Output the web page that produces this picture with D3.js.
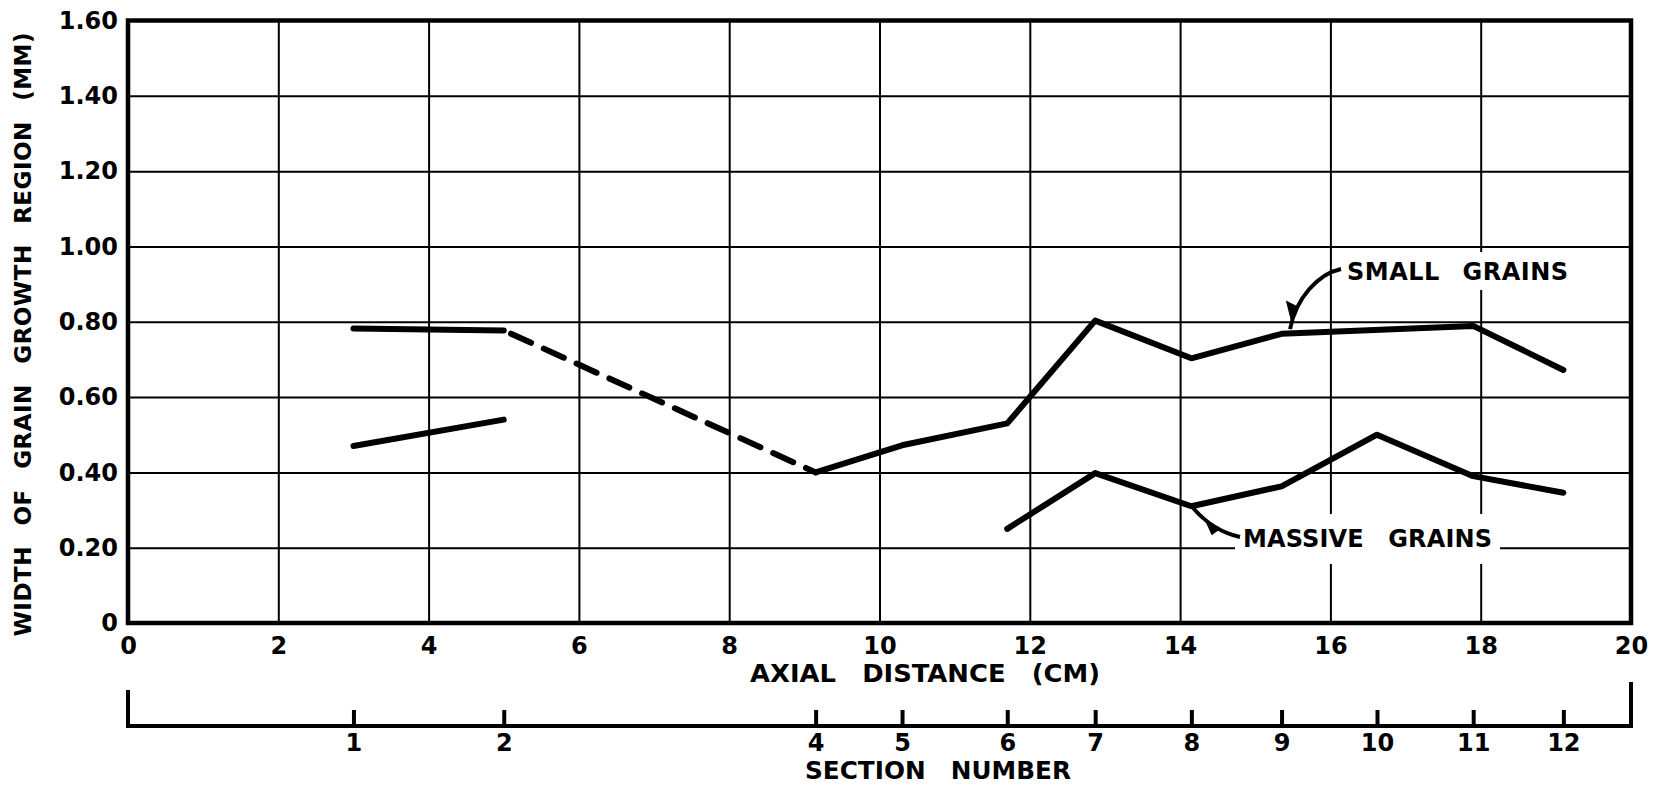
<!DOCTYPE html>
<html><head><meta charset="utf-8">
<script src="https://cdn.jsdelivr.net/npm/d3@7"></script>
<style>
body{margin:0;background:#fff}
text{font-family:"DejaVu Sans",sans-serif;font-weight:bold;fill:#000}
</style>
</head><body>
<svg id="c" width="1671" height="789"></svg>
<script>
// ---- data ----
const yTicks = [0, 0.2, 0.4, 0.6, 0.8, 1.0, 1.2, 1.4, 1.6];
const xTicks = [0, 2, 4, 6, 8, 10, 12, 14, 16, 18, 20];
const sections = [1, 2, 4, 5, 6, 7, 8, 9, 10, 11, 12];
const sectionCm = [3.0, 5.0, 9.15, 10.3, 11.7, 12.87, 14.15, 15.35, 16.62, 17.9, 19.1];
// small grains, sections 1-2 (solid)
const smallEarlySec = [1, 2];
const smallEarlyVal = [0.782, 0.777];
// small grains, sections 2-4 (dashed, interpolated)
const smallDashSec = [2, 4];
const smallDashVal = [0.777, 0.40];
// small grains, sections 4-12 (section 10 not a vertex)
const smallMainSec = [4, 5, 6, 7, 8, 9, 11, 12];
const smallMainVal = [0.40, 0.472, 0.53, 0.803, 0.703, 0.768, 0.789, 0.672];
// massive grains
const massEarlySec = [1, 2];
const massEarlyVal = [0.47, 0.54];
const massMainSec = [6, 7, 8, 9, 10, 11, 12];
const massMainVal = [0.25, 0.398, 0.31, 0.363, 0.50, 0.39, 0.346];

const yTitle = "WIDTH OF GRAIN GROWTH REGION (MM)";
const xTitle = "AXIAL DISTANCE (CM)";
const secTitle = "SECTION NUMBER";

// ---- layout ----
const svg = d3.select("#c");
const x = d3.scaleLinear().domain([0, 20]).range([128, 1631]);
const y = d3.scaleLinear().domain([0, 1.6]).range([623, 20.5]);
const cm = s => sectionCm[sections.indexOf(s)];
const pts = (secs, vals) => secs.map((s, i) => [cm(s), vals[i]]);
const line = d3.line().x(d => x(d[0])).y(d => y(d[1]));

// horizontal grid
const gy = svg.append("g").attr("transform", `translate(${x(0)},0)`)
  .call(d3.axisLeft(y).tickValues(yTicks).tickSize(-(x(20) - x(0))).tickPadding(10)
    .tickFormat(d => d === 0 ? "0" : d.toFixed(2)));
gy.select(".domain").remove();
gy.selectAll("line").attr("stroke", "#000").attr("stroke-width", 2);
gy.selectAll("text").attr("font-size", 24).attr("font-family", "DejaVu Sans").attr("font-weight", "bold");

// vertical grid
const gx = svg.append("g").attr("transform", `translate(0,${y(0)})`)
  .call(d3.axisBottom(x).tickValues(xTicks).tickSize(-(y(0) - y(1.6))).tickPadding(14));
gx.select(".domain").remove();
gx.selectAll("line").attr("stroke", "#000").attr("stroke-width", 2);
gx.selectAll("text").attr("font-size", 24).attr("font-family", "DejaVu Sans").attr("font-weight", "bold");

// label masks (white behind text)
svg.append("rect").attr("x", 1338).attr("y", 252).attr("width", 240).attr("height", 38).attr("fill", "#fff");
svg.append("rect").attr("x", 1235).attr("y", 514).attr("width", 265).attr("height", 50).attr("fill", "#fff");

// frame
svg.append("rect").attr("x", x(0)).attr("y", y(1.6)).attr("width", x(20) - x(0)).attr("height", y(0) - y(1.6))
  .attr("fill", "none").attr("stroke", "#000").attr("stroke-width", 4.5);

// data lines
const solid = (d) => svg.append("path").datum(d).attr("d", line).attr("fill", "none")
  .attr("stroke", "#000").attr("stroke-width", 6).attr("stroke-linecap", "round").attr("stroke-linejoin", "round");
solid(pts(smallEarlySec, smallEarlyVal));
svg.append("path").datum(pts(smallDashSec, smallDashVal)).attr("d", line).attr("fill", "none")
  .attr("stroke", "#000").attr("stroke-width", 6).attr("stroke-linecap", "round")
  .attr("stroke-dasharray", "22,14").attr("stroke-dashoffset", -8);
solid(pts(smallMainSec, smallMainVal));
solid(pts(massEarlySec, massEarlyVal));
solid(pts(massMainSec, massMainVal));

// labels
svg.append("text").attr("x", 1347).attr("y", 280).attr("font-size", 24).attr("word-spacing", 14)
  .attr("textLength", 221).attr("lengthAdjust", "spacing").text("SMALL GRAINS");
svg.append("text").attr("x", 1243).attr("y", 547).attr("font-size", 24).attr("word-spacing", 16)
  .attr("textLength", 249).attr("lengthAdjust", "spacing").text("MASSIVE GRAINS");

// leaders (anchored to data vertices)
const sx = x(15.45), sy = y(0.77);
svg.append("path").attr("d", `M1341,269 C1318,274 1296,298 ${sx + 1},${sy - 4}`)
  .attr("fill", "none").attr("stroke", "#000").attr("stroke-width", 4);
svg.append("path").attr("d", `M1287,302 L1292,322 L1297,307 Z`).attr("fill", "#000").attr("stroke", "#000").attr("stroke-width", 1.5);
const mx = x(14.15), my = y(0.31);
svg.append("path").attr("d", `M1240,537 C1222,533 1205,522 ${mx + 2},${my + 2}`)
  .attr("fill", "none").attr("stroke", "#000").attr("stroke-width", 4);
svg.append("path").attr("d", `M1206,521 L1212,534 L1219,529 Z`).attr("fill", "#000").attr("stroke", "#000").attr("stroke-width", 1.5);

// axis titles
svg.append("text").attr("transform", "translate(31,334.5) rotate(-90)").attr("text-anchor", "middle")
  .attr("font-size", 23).attr("word-spacing", 12).attr("textLength", 604).attr("lengthAdjust", "spacing").text(yTitle);
svg.append("text").attr("x", 925).attr("y", 682).attr("text-anchor", "middle").attr("font-size", 24)
  .attr("word-spacing", 16).attr("textLength", 350).attr("lengthAdjust", "spacingAndGlyphs").text(xTitle);

// section number axis
const secY = 726;
const gs = svg.append("g").attr("transform", `translate(0,${secY})`)
  .call(d3.axisBottom(x).tickValues(sectionCm).tickFormat((d, i) => sections[i])
    .tickSizeInner(-16).tickSizeOuter(0).tickPadding(8));
gs.select(".domain").remove();
gs.selectAll("line").attr("stroke", "#000").attr("stroke-width", 4);
gs.selectAll("text").attr("font-size", 24).attr("font-family", "DejaVu Sans").attr("font-weight", "bold");
svg.append("path").attr("d", `M${x(0)},${secY - 36} V${secY} H${x(20)} V${secY - 44}`)
  .attr("fill", "none").attr("stroke", "#000").attr("stroke-width", 4);
svg.append("text").attr("x", 938).attr("y", 779).attr("text-anchor", "middle").attr("font-size", 24)
  .attr("word-spacing", 16).attr("textLength", 266).attr("lengthAdjust", "spacingAndGlyphs").text(secTitle);
</script>
</body></html>
